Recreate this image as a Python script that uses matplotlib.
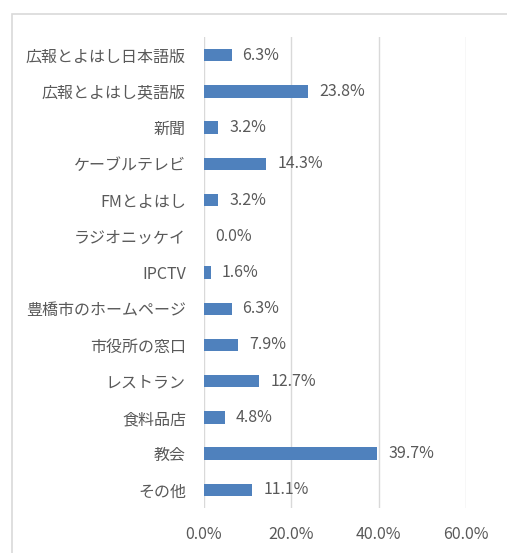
import matplotlib
matplotlib.use("Agg")
import matplotlib.pyplot as plt
from matplotlib.patches import Rectangle
from matplotlib.ticker import FuncFormatter

plt.rcParams['font.family'] = ['Noto Sans CJK JP', 'DejaVu Sans']

categories = ["広報とよはし日本語版", "広報とよはし英語版", "新聞", "ケーブルテレビ",
              "FMとよはし", "ラジオニッケイ", "IPCTV", "豊橋市のホームページ",
              "市役所の窓口", "レストラン", "食料品店", "教会", "その他"]
values = [6.3, 23.8, 3.2, 14.3, 3.2, 0.0, 1.6, 6.3, 7.9, 12.7, 4.8, 39.7, 11.1]
x_ticks = [0, 20, 40, 60]

text_color = "#595959"
grid_color = "#D9D9D9"
bar_color = "#4F81BD"

fig = plt.figure(figsize=(5.07, 5.53), dpi=100)
fig.patch.set_facecolor("white")

# chart area frame
fig.patches.append(Rectangle((12 / 507, -0.05), 1.2, 1 - 14 / 553 + 0.05,
                             transform=fig.transFigure, fill=False,
                             edgecolor=grid_color, linewidth=1.2))

ax = fig.add_axes([204 / 507, 1 - 508 / 553, 262 / 507, 471 / 553])
ypos = list(range(len(categories)))
ax.barh(ypos, values, height=0.34, color=bar_color)
ax.set_ylim(len(categories) - 0.5, -0.5)
ax.set_xlim(0, 60)
ax.set_yticks(ypos)
ax.set_yticklabels(categories)
ax.set_xticks(x_ticks)
ax.xaxis.set_major_formatter(FuncFormatter(lambda v, p: f"{v:.1f}%"))
ax.tick_params(axis="both", length=0, colors=text_color, labelsize=11.5)
ax.tick_params(axis="y", pad=13)
ax.tick_params(axis="x", pad=13)
for s in ax.spines.values():
    s.set_visible(False)
ax.grid(axis="x", color=grid_color, linewidth=1)
ax.set_axisbelow(True)

for y, v in zip(ypos, values):
    ax.annotate(f"{v:.1f}%", (v, y), xytext=(8, 0), textcoords="offset points",
                va="center", ha="left", color=text_color, fontsize=11.5)

fig.savefig("out.png", dpi=100)
